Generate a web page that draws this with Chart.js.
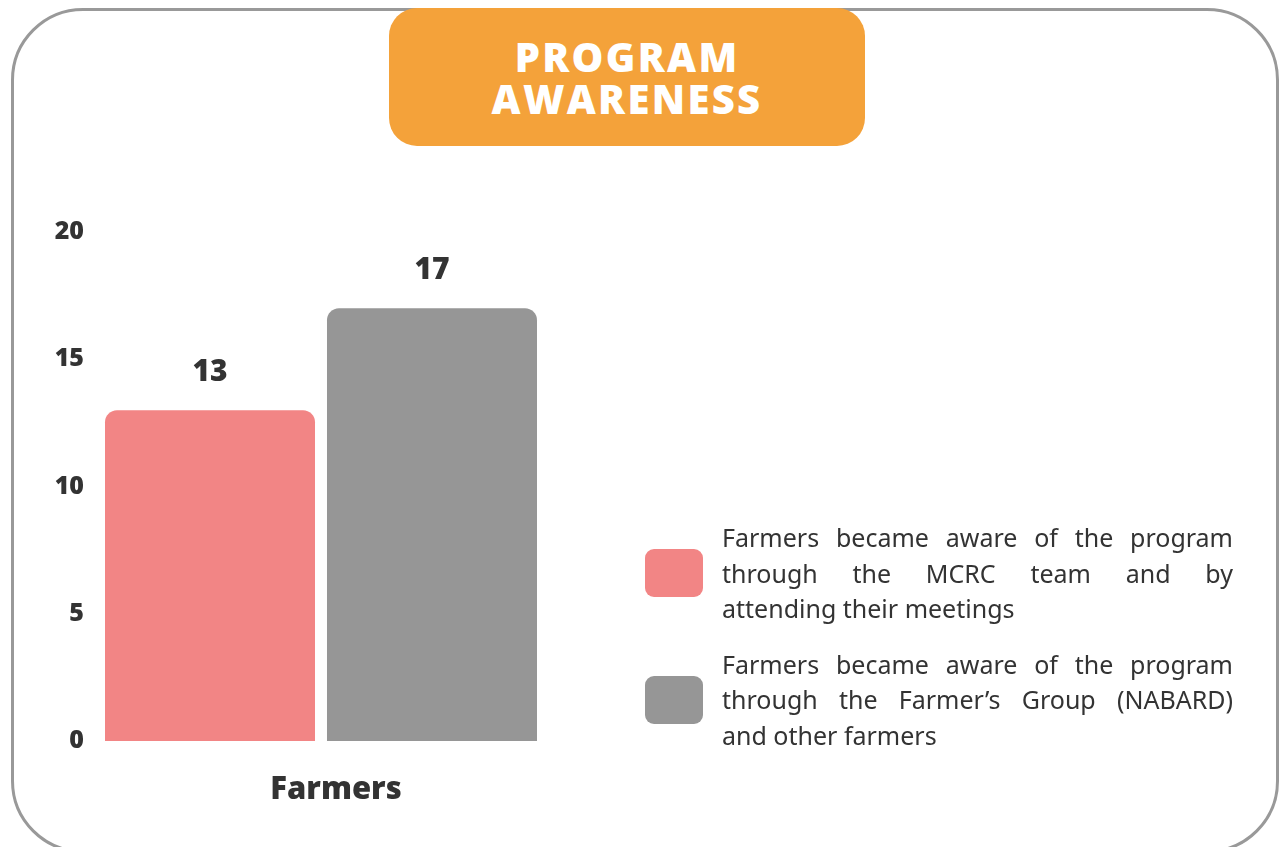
<!DOCTYPE html>
<html>
<head>
<meta charset="utf-8">
<title>Program Awareness</title>
<script src="https://cdn.jsdelivr.net/npm/chart.js@4.4.1/dist/chart.umd.min.js"></script>
<style>
    html, body {
        margin: 0;
        padding: 0;
        background: #ffffff;
    }
    #page {
        position: relative;
        width: 1279px;
        height: 847px;
        overflow: hidden;
        background: #ffffff;
    }
    .card {
        position: absolute;
        left: 11px;
        top: 8px;
        width: 1268px;
        height: 845px;
        border: 3px solid #999999;
        border-radius: 72px;
        box-sizing: border-box;
    }
    .title-box {
        position: absolute;
        left: 389px;
        top: 8px;
        width: 476px;
        height: 138px;
        background: #F4A23A;
        border-radius: 28px;
        color: #ffffff;
        font-family: "Open Sans", sans-serif;
        font-weight: 800;
        font-size: 40px;
        letter-spacing: 2.3px;
        line-height: 42px;
        text-align: center;
        box-sizing: border-box;
        padding-top: 28px;
    }
    #chartCanvas {
        position: absolute;
        left: 0;
        top: 0;
    }
    .legend {
        position: absolute;
        left: 645px;
        top: 520px;
        width: 588px;
        font-family: "Noto Sans", sans-serif;
        font-size: 25px;
        line-height: 35.5px;
        color: #333333;
    }
    .legend-item {
        display: flex;
        align-items: center;
        margin-bottom: 20px;
    }
    .legend-swatch {
        width: 58px;
        height: 48px;
        border-radius: 9px;
        flex: none;
        margin-right: 19px;
    }
    .legend-text {
        width: 511px;
    }
    .legend-text span {
        display: block;
        white-space: nowrap;
        text-align: justify;
        text-align-last: justify;
    }
    .legend-text span.last {
        text-align-last: left;
    }
</style>
</head>
<body>
<div id="page">
    <div class="card"></div>
    <canvas id="chartCanvas" width="1279" height="847"></canvas>
    <div class="title-box">PROGRAM<br>AWARENESS</div>
    <div class="legend" id="legend"></div>
</div>

<script>
// Chart data
const categories = ['Farmers'];
const mcrcTeam = [13];
const farmersGroup = [17];
const yTicks = [0, 5, 10, 15, 20];

const mcrcLines = [
    'Farmers became aware of the program',
    'through the MCRC team and by',
    'attending their meetings'
];
const groupLines = [
    'Farmers became aware of the program',
    'through the Farmer\u2019s Group (NABARD)',
    'and other farmers'
];

const seriesColors = ['#F28585', '#969696'];
const textColor = '#333333';
const boldFont = '"Open Sans", sans-serif';

// Writes the value above each bar
const valueLabels = {
    id: 'valueLabels',
    afterDatasetsDraw(chart) {
        const ctx = chart.ctx;
        ctx.save();
        ctx.font = '800 30px ' + boldFont;
        ctx.fillStyle = textColor;
        ctx.textAlign = 'center';
        ctx.textBaseline = 'middle';
        chart.data.datasets.forEach((ds, i) => {
            chart.getDatasetMeta(i).data.forEach((bar, j) => {
                ctx.fillText(String(ds.data[j]), bar.x, bar.y - 38);
            });
        });
        ctx.restore();
    }
};

function buildLegend(chart) {
    const legend = document.getElementById('legend');
    legend.innerHTML = '';
    const lineSets = [mcrcLines, groupLines];
    chart.data.datasets.forEach((ds, i) => {
        const item = document.createElement('div');
        item.className = 'legend-item';
        const swatch = document.createElement('div');
        swatch.className = 'legend-swatch';
        swatch.style.background = ds.backgroundColor;
        const text = document.createElement('div');
        text.className = 'legend-text';
        lineSets[i].forEach((line, k) => {
            const span = document.createElement('span');
            span.textContent = line;
            if (k === lineSets[i].length - 1) span.className = 'last';
            text.appendChild(span);
        });
        item.appendChild(swatch);
        item.appendChild(text);
        legend.appendChild(item);
    });
}

function initializeChart() {
    const ctx = document.getElementById('chartCanvas').getContext('2d');
    const barRadius = { topLeft: 12, topRight: 12, bottomLeft: 0, bottomRight: 0 };
    const chart = new Chart(ctx, {
        type: 'bar',
        data: {
            labels: categories,
            datasets: [{
                label: mcrcLines.join(' '),
                data: mcrcTeam,
                backgroundColor: seriesColors[0],
                borderRadius: barRadius,
                borderSkipped: false
            }, {
                label: groupLines.join(' '),
                data: farmersGroup,
                backgroundColor: seriesColors[1],
                borderRadius: barRadius,
                borderSkipped: false
            }]
        },
        options: {
            responsive: false,
            animation: false,
            categoryPercentage: 0.961,
            barPercentage: 0.946,
            layout: {
                padding: { left: 0, top: 232, right: 727, bottom: 0 }
            },
            plugins: {
                legend: { display: false },
                tooltip: { enabled: false }
            },
            scales: {
                x: {
                    grid: { display: false, drawTicks: false },
                    border: { display: false },
                    ticks: {
                        color: textColor,
                        font: { family: boldFont, size: 31, weight: '800' },
                        padding: 31,
                        labelOffset: 15
                    },
                    afterFit(scale) { scale.height = 106; }
                },
                y: {
                    min: 0,
                    max: 20,
                    afterBuildTicks(scale) {
                        scale.ticks = yTicks.map(v => ({ value: v }));
                    },
                    grid: { display: false, drawTicks: false },
                    border: { display: false },
                    ticks: {
                        color: textColor,
                        font: { family: boldFont, size: 25, weight: '800' },
                        padding: 6
                    },
                    afterFit(scale) { scale.width = 90; }
                }
            }
        },
        plugins: [valueLabels]
    });
    buildLegend(chart);
}

document.addEventListener('DOMContentLoaded', initializeChart);
</script>
</body>
</html>
